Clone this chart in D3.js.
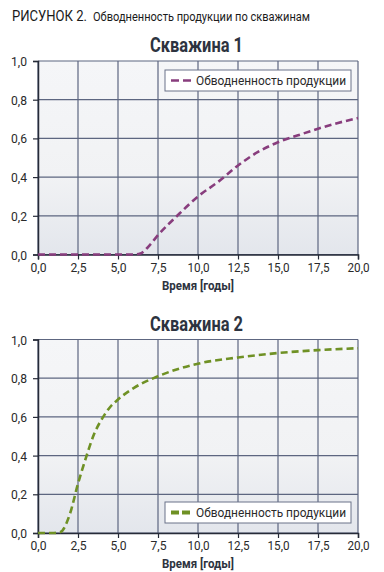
<!DOCTYPE html>
<html><head><meta charset="utf-8">
<script src="https://cdn.jsdelivr.net/npm/d3@7"></script>
<style>
body{margin:0;background:#fff;}
svg{display:block;}
text{font-family:"Roboto","Liberation Sans",sans-serif;}
</style></head>
<body>
<svg id="c" width="384" height="572"></svg>
<script>
const xTicks = [0, 2.5, 5, 7.5, 10, 12.5, 15, 17.5, 20];
const yTicks = [0, 0.2, 0.4, 0.6, 0.8, 1.0];
const seriesName = "Обводненность продукции";
const well1X = [0, 2, 4, 6, 6.4, 7, 7.5, 8.7, 10, 11.25, 12.5, 13.75, 15, 16.25, 17.5, 18.75, 20];
const well1Y = [0, 0, 0, 0, 0.005, 0.05, 0.10, 0.20, 0.30, 0.375, 0.46, 0.53, 0.58, 0.616, 0.65, 0.68, 0.705];
const well2X = [0, 1, 1.4, 2, 2.5, 3, 3.5, 4, 4.5, 5, 6, 7.5, 10, 12.5, 15, 17.5, 20];
const well2Y = [0, 0, 0.005, 0.10, 0.255, 0.39, 0.51, 0.59, 0.65, 0.69, 0.75, 0.81, 0.875, 0.907, 0.93, 0.945, 0.955];

const svg = d3.select("#c");
const fmt = d => d3.format(".1f")(d).replace(".", ",");
function fit(sel, w) { return sel.attr("textLength", w).attr("lengthAdjust", "spacingAndGlyphs"); }

fit(svg.append("text").attr("x", 12).attr("y", 21).attr("fill", "#1a1a1a").attr("font-size", 15)
  .text("РИСУНОК 2."), 75);
fit(svg.append("text").attr("x", 93).attr("y", 21).attr("fill", "#1a1a1a").attr("font-size", 12)
  .text("Обводненность продукции по скважинам"), 217);

const defs = svg.append("defs");
const g = defs.append("linearGradient").attr("id", "bg").attr("x1", 0).attr("y1", 0).attr("x2", 0).attr("y2", 1);
g.append("stop").attr("offset", "0%").attr("stop-color", "#f5f6f8");
g.append("stop").attr("offset", "60%").attr("stop-color", "#f1f2f4");
g.append("stop").attr("offset", "100%").attr("stop-color", "#e3e6ec");

function panel(top, title, xs, ys, color, legendTop, legendDash) {
  const x = d3.scaleLinear().domain([0, 20]).range([38, 358]);
  const y = d3.scaleLinear().domain([0, 1]).range([top + 193.5, top]);
  const p = svg.append("g");
  fit(p.append("text").attr("x", 150).attr("y", top - 9)
    .attr("font-size", 20).attr("font-weight", "bold").attr("fill", "#2d3340").text(title), 93);
  p.append("rect").attr("x", x(0)).attr("y", y(1)).attr("width", x(20) - x(0)).attr("height", y(0) - y(1))
    .attr("fill", "url(#bg)");
  p.append("g").selectAll("line").data(xTicks).join("line")
    .attr("x1", d => x(d)).attr("x2", d => x(d)).attr("y1", y(0)).attr("y2", y(1))
    .attr("stroke", "#5d6680").attr("stroke-width", 1.2);
  p.append("g").selectAll("line").data(yTicks).join("line")
    .attr("x1", x(0)).attr("x2", x(20)).attr("y1", d => y(d)).attr("y2", d => y(d))
    .attr("stroke", "#5d6680").attr("stroke-width", 1.2);
  const xa = p.append("g").attr("transform", `translate(0,${y(0)})`)
    .call(d3.axisBottom(x).tickValues(xTicks).tickFormat(fmt).tickSize(5).tickPadding(3));
  const ya = p.append("g").attr("transform", `translate(${x(0)},0)`)
    .call(d3.axisLeft(y).tickValues(yTicks).tickFormat(fmt).tickSize(5).tickPadding(6));
  [xa, ya].forEach(a => {
    a.select(".domain").attr("stroke", "#262b38").attr("stroke-width", 1.5);
    a.selectAll(".tick line").attr("stroke", "#262b38").attr("stroke-width", 1.2);
    a.selectAll(".tick text").attr("font-size", 13).attr("fill", "#2a2a2a")
      .attr("font-family", "Roboto,'Liberation Sans',sans-serif")
      .attr("textLength", d => d >= 10 ? 22 : 16).attr("lengthAdjust", "spacingAndGlyphs");
  });
  ya.selectAll(".tick text").attr("dy", "0.35em");
  fit(p.append("text").attr("x", 162).attr("y", y(0) + 35)
    .attr("font-size", 12).attr("font-weight", "bold").attr("fill", "#2d3340").text("Время [годы]"), 72);
  const data = xs.map((v, i) => [v, ys[i]]);
  p.append("path").datum(data)
    .attr("d", d3.line().x(d => x(d[0])).y(d => y(d[1])).curve(d3.curveMonotoneX))
    .attr("fill", "none").attr("stroke", color).attr("stroke-width", 2.6)
    .attr("stroke-dasharray", "7,4");
  const lg = p.append("g").attr("transform", `translate(165,${legendTop})`);
  lg.append("rect").attr("width", 186).attr("height", 21).attr("fill", "#fff")
    .attr("stroke", "#6b7389").attr("stroke-width", 1);
  lg.append("line").attr("x1", 6).attr("x2", 26).attr("y1", 10.5).attr("y2", 10.5)
    .attr("stroke", color).attr("stroke-width", legendDash[1]).attr("stroke-dasharray", legendDash[0]);
  fit(lg.append("text").attr("x", 31).attr("y", 15).attr("font-size", 13).attr("fill", "#2a2a2a").text(seriesName), 150);
}

panel(61, "Скважина 1", well1X, well1Y, "#883d7d", 70, ["8,4", 2.6]);
panel(339.5, "Скважина 2", well2X, well2Y, "#6f9125", 502, ["8,3", 4]);
</script>
</body></html>
